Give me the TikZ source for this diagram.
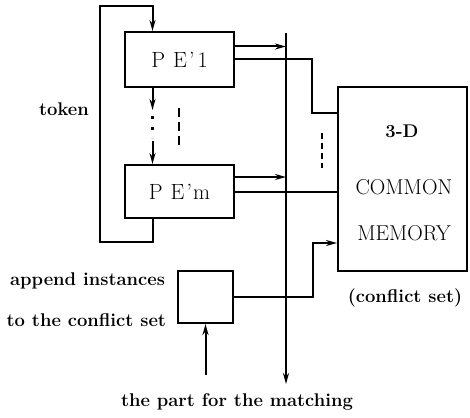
\documentclass[tikz,border=0pt]{standalone}
\usetikzlibrary{arrows.meta}
\begin{document}
\begin{tikzpicture}[x=1pt,y=-1pt,line width=2pt,
  blk/.style={draw,rectangle,inner sep=0pt},
  arr/.style={-{Stealth[length=11pt,width=6pt]}},
  lbl/.style={font=\fontsize{18.4}{21}\selectfont\bfseries,inner sep=0pt},
  petext/.style={font=\fontsize{22}{26}\selectfont},
  memtext/.style={font=\fontsize{21.5}{26}\selectfont,inner sep=0pt}]
\useasboundingbox (0,0) rectangle (470,417);

% processing elements
\node[blk,minimum width=109pt,minimum height=55pt,petext] (pe1) at (179.5,59.5)
  {P\hspace{8pt}E\hspace{2pt}'\hspace{3pt}1};
\node[blk,minimum width=109pt,minimum height=53pt,petext] (pem) at (179.5,191.5)
  {P\hspace{8pt}E\hspace{2pt}'\hspace{1pt}m};

% common memory
\node[blk,minimum width=129pt,minimum height=184pt] (mem) at (402.5,179) {};
\node[lbl] (m3d) at (402,131) {3-D};
\node[memtext] (mcom) at (404,187) {COMMON};
\node[memtext] (mmem) at (404,233) {MEMORY};
\node[lbl] (cset) at (405,298) {(conflict set)};

% instance appender
\node[blk,minimum width=55pt,minimum height=52pt] (app) at (205.5,297) {};

% matching bus
\coordinate (bustop) at (286,33);
\coordinate (busbot) at (286,384);
\draw[arr] (bustop) -- (busbot);

% outputs of PE'1
\draw[arr] ([yshift=13pt]pe1.east) -- ([yshift=13pt]pe1.east -| bustop);
\coordinate (j1) at (312,113);
\draw (pe1.east) -| (j1) -- (j1 -| mem.west);

% outputs of PE'm
\draw[arr] ([yshift=14.5pt]pem.east) -- ([yshift=14.5pt]pem.east -| bustop);
\draw (pem.east) -- (pem.east -| mem.west);

% appender to memory
\coordinate (j2) at (313,243);
\draw[arr] (app.east) -| (j2) -- (j2 -| mem.west);

% incoming part for the matching
\coordinate (src) at (205.5,375);
\draw[arr] (src) -- (app.south);

% token ring
\coordinate (fb) at (100,242);
\coordinate (ft) at (100,6);
\draw[arr] ([xshift=-27pt]pem.south) |- (fb) -- (ft) -| ([xshift=-27pt]pe1.north);

% token passing between the elided elements
\coordinate (t1) at (152.5,110);
\coordinate (t2) at (152.5,141);
\draw[arr] ([xshift=-27pt]pe1.south) -- (t1);
\draw[line width=2.4pt,dash pattern=on 3pt off 8pt] ([yshift=-6pt]t1) -- ([yshift=3pt]t2);
\draw[arr] (t2) -- ([xshift=-27pt]pem.north);

% ellipsis marks
\coordinate (da) at (179,108);
\coordinate (db) at (179,148);
\draw[dash pattern=on 9pt off 5pt] (da) -- (db);
\coordinate (dc) at (322,133);
\coordinate (dd) at (322,168);
\draw[dash pattern=on 6pt off 4pt] (dc) -- (dd);

% labels
\node[lbl] (tok) at (64,109) {token};
\node[lbl,anchor=east] (ap1) at (166,281) {append instances};
\node[lbl,anchor=east] (ap2) at (167,320) {to the conflict set};
\node[lbl] (part) at (237,402) {the part for the matching};
\end{tikzpicture}
\end{document}
